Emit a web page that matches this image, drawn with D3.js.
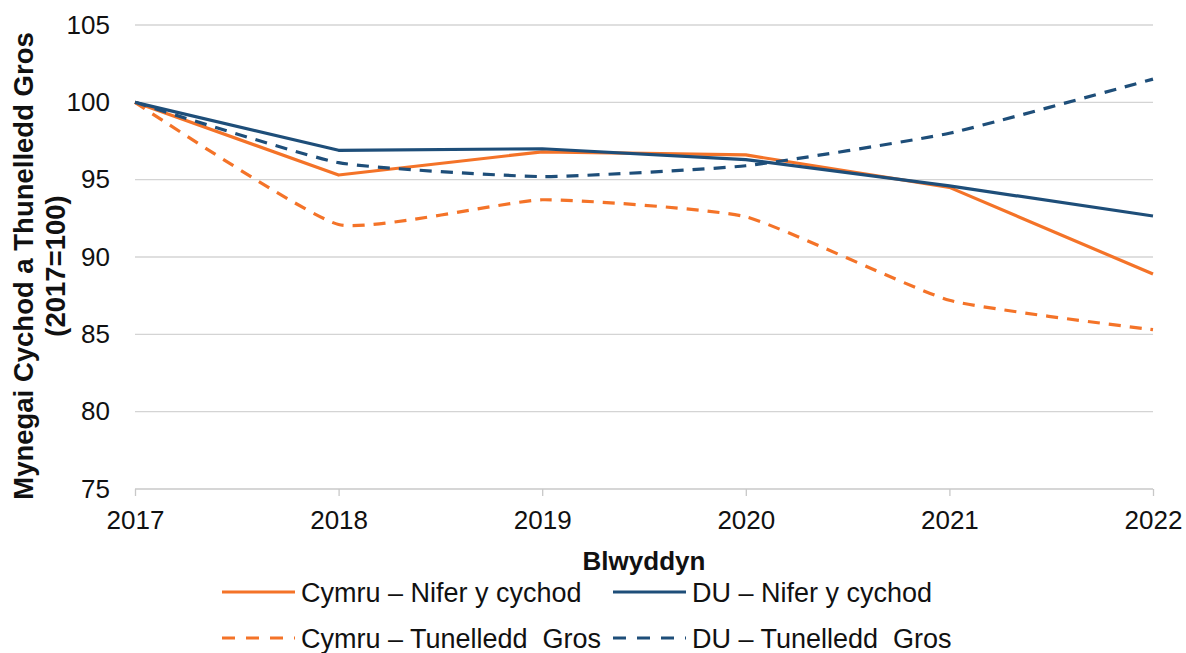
<!DOCTYPE html>
<html><head><meta charset="utf-8">
<script src="https://cdn.jsdelivr.net/npm/d3@7"></script>
<style>body{margin:0;background:#fff}svg{display:block;font-family:"Liberation Sans",Arial,sans-serif}</style>
</head><body><svg id="c" width="1186" height="653"></svg>
<script>
const years = [2017, 2018, 2019, 2020, 2021, 2022];
const yTicks = [75, 80, 85, 90, 95, 100, 105];
const cymruNifer = [100, 95.3, 96.8, 96.6, 94.5, 88.9];
const duNifer = [100, 96.9, 97.0, 96.3, 94.6, 92.65];
const cymruTunelledd = [100, 92.1, 93.7, 92.6, 87.2, 85.3];
const duTunelledd = [100, 96.1, 95.2, 95.9, 98.0, 101.5];
const seriesNames = ["Cymru \u2013 Nifer y cychod", "DU \u2013 Nifer y cychod", "Cymru \u2013 Tunelledd  Gros", "DU \u2013 Tunelledd  Gros"];

const orange = "#F47328", navy = "#1E4E79";
const series = [
  {name: seriesNames[0], values: cymruNifer, color: orange, dash: null, smooth: false},
  {name: seriesNames[1], values: duNifer, color: navy, dash: null, smooth: false},
  {name: seriesNames[2], values: cymruTunelledd, color: orange, dash: "12,9", smooth: true},
  {name: seriesNames[3], values: duTunelledd, color: navy, dash: "12,9", smooth: true}
];

const svg = d3.select("#c");
const x = d3.scaleLinear().domain([2017, 2022]).range([135, 1153]);
const y = d3.scaleLinear().domain([75, 105]).range([489, 25]);
const FS = 26;

// gridlines
svg.append("g").selectAll("line").data(yTicks.filter(d => d > 75)).join("line")
  .attr("x1", x(2017)).attr("x2", x(2022))
  .attr("y1", d => y(d)).attr("y2", d => y(d))
  .attr("stroke", "#d4d4d4").attr("stroke-width", 1.3);

// x axis
const xAxis = svg.append("g").attr("transform", `translate(0,${y(75)})`)
  .call(d3.axisBottom(x).tickValues(years).tickFormat(d3.format("d")).tickSize(7).tickPadding(15));
xAxis.select(".domain").attr("stroke", "#c8c8c8").attr("stroke-width", 1.3).attr("d", `M${x(2017)},0H${x(2022)}`);
xAxis.selectAll(".tick line").attr("stroke", "#c8c8c8").attr("stroke-width", 1.3);
xAxis.selectAll("text").attr("font-size", FS).attr("fill", "#111").style("font-family", "Liberation Sans, Arial, sans-serif");

// y axis
const yAxis = svg.append("g").attr("transform", `translate(${x(2017)},0)`)
  .call(d3.axisLeft(y).tickValues(yTicks).tickSize(0).tickPadding(25));
yAxis.select(".domain").remove();
yAxis.selectAll("text").attr("font-size", FS).attr("fill", "#111").style("font-family", "Liberation Sans, Arial, sans-serif");

// lines
series.forEach(s => {
  const line = d3.line().x((d, i) => x(years[i])).y(d => y(d))
    .curve(s.smooth ? d3.curveCardinal.tension(0.55) : d3.curveLinear);
  svg.append("path").datum(s.values).attr("d", line)
    .attr("fill", "none").attr("stroke", s.color).attr("stroke-width", 3.2)
    .attr("stroke-dasharray", s.dash).attr("stroke-linejoin", "round");
});

// axis titles
svg.append("text").attr("x", 644).attr("y", 570).attr("text-anchor", "middle")
  .attr("font-size", 26).attr("font-weight", "bold").attr("fill", "#111").text("Blwyddyn");
const yt = svg.append("text").attr("transform", "translate(0,266) rotate(-90)")
  .attr("text-anchor", "middle").attr("font-size", 27.5).attr("font-weight", "bold").attr("fill", "#111");
yt.append("tspan").attr("x", 0).attr("y", 33).text("Mynegai Cychod a Thunelledd Gros");
yt.append("tspan").attr("x", 0).attr("y", 65).text("(2017=100)");

// legend
const legPos = [[222, 592], [613, 592], [222, 638], [613, 638]];
series.forEach((s, i) => {
  const [lx, ly] = legPos[i];
  svg.append("line").attr("x1", lx).attr("x2", lx + 73).attr("y1", ly).attr("y2", ly)
    .attr("stroke", s.color).attr("stroke-width", 3.2).attr("stroke-dasharray", s.dash ? "13,11" : null);
  svg.append("text").attr("x", lx + 79).attr("y", ly + 10).attr("font-size", 27).attr("fill", "#111")
    .style("white-space", "pre").text(s.name);
});
</script></body></html>
